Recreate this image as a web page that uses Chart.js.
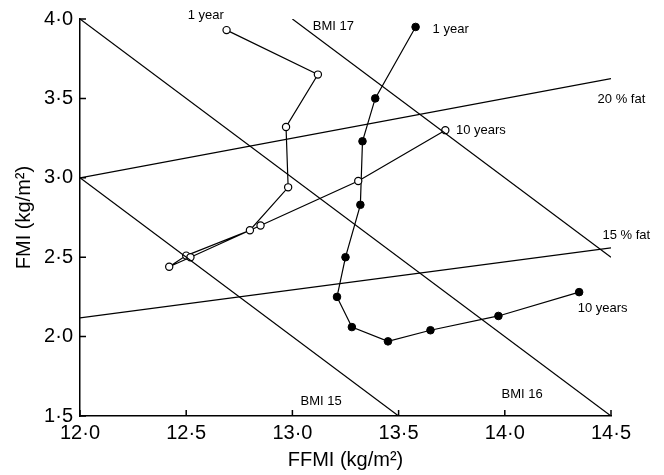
<!DOCTYPE html>
<html>
<head>
<meta charset="utf-8">
<script src="https://cdn.jsdelivr.net/npm/chart.js@4/dist/chart.umd.min.js"></script>
<style>
  html, body { margin: 0; padding: 0; background: #fff; }
  #wrap { width: 664px; height: 475px; }
</style>
</head>
<body>
<div id="wrap"><canvas id="fmiChart"></canvas></div>
<script>
// open circles (1 year -> 10 years)
const openFFMI = [12.69, 13.12, 12.97, 12.98, 12.80, 12.50, 12.42, 12.52, 12.85, 13.31, 13.72];
const openFMI  = [3.93, 3.65, 3.32, 2.94, 2.67, 2.51, 2.44, 2.50, 2.70, 2.98, 3.30];
// filled circles (1 year -> 10 years)
const filledFFMI = [13.58, 13.39, 13.33, 13.32, 13.25, 13.21, 13.28, 13.45, 13.65, 13.97, 14.35];
const filledFMI  = [3.95, 3.50, 3.23, 2.83, 2.50, 2.25, 2.06, 1.97, 2.04, 2.13, 2.28];

// reference lines, end points
const bmi15 = [[12.0, 3.0], [13.5, 1.5]];
const bmi16 = [[12.0, 4.0], [14.5, 1.5]];
const bmi17 = [[13.0, 4.0], [14.5, 2.5]];
const fat20 = [[12.0, 3.0], [14.5, 3.625]];
const fat15 = [[12.0, 2.118], [14.5, 2.559]];

const xTicks = [12.0, 12.5, 13.0, 13.5, 14.0, 14.5];
const yTicks = [1.5, 2.0, 2.5, 3.0, 3.5, 4.0];

// text notes [text, x, y]
const notes = [
  ['1 year', 12.507, 4.02],
  ['1 year', 13.66, 3.935],
  ['10 years', 13.77, 3.30],
  ['10 years', 14.343, 2.177],
  ['BMI 17', 13.096, 3.954],
  ['20 % fat', 14.437, 3.496],
  ['15 % fat', 14.46, 2.638],
  ['BMI 16', 13.985, 1.637],
  ['BMI 15', 13.038, 1.591]
];

const pts = (xs, ys) => xs.map((x, i) => ({x: x, y: ys[i]}));
const seg = a => a.map(p => ({x: p[0], y: p[1]}));
const dec = v => v.toFixed(1).replace('.', '\u00b7');

function refLine(p) {
  return {
    type: 'line', data: seg(p), borderColor: '#000', borderWidth: 1.2,
    pointRadius: 0, fill: false, showLine: true
  };
}

const extras = {
  id: 'extras',
  afterDraw(chart) {
    const ctx = chart.ctx;
    const xs = chart.scales.x, ys = chart.scales.y;
    ctx.save();
    // inward tick marks
    ctx.strokeStyle = '#000';
    ctx.lineWidth = 1.5;
    ctx.beginPath();
    xTicks.forEach(v => {
      const px = xs.getPixelForValue(v);
      ctx.moveTo(px, ys.bottom);
      ctx.lineTo(px, ys.bottom - 6);
    });
    yTicks.forEach(v => {
      const py = ys.getPixelForValue(v);
      ctx.moveTo(xs.left, py);
      ctx.lineTo(xs.left + 6, py);
    });
    ctx.stroke();
    ctx.fillStyle = '#000';
    ctx.font = '13px "Liberation Sans", Arial, sans-serif';
    ctx.textBaseline = 'middle';
    ctx.textAlign = 'left';
    notes.forEach(n => {
      ctx.fillText(n[0], xs.getPixelForValue(n[1]), ys.getPixelForValue(n[2]));
    });
    ctx.restore();
  }
};

Chart.defaults.font.family = '"Liberation Sans", Arial, sans-serif';
Chart.defaults.color = '#000';

new Chart(document.getElementById('fmiChart'), {
  type: 'scatter',
  data: {
    datasets: [
      refLine(bmi15), refLine(bmi16), refLine(bmi17), refLine(fat20), refLine(fat15),
      {
        data: pts(openFFMI, openFMI), showLine: true, borderColor: '#000', borderWidth: 1.2,
        pointRadius: 3.6, pointBackgroundColor: '#fff', pointBorderColor: '#000', pointBorderWidth: 1.2
      },
      {
        data: pts(filledFFMI, filledFMI), showLine: true, borderColor: '#000', borderWidth: 1.2,
        pointRadius: 3.8, pointBackgroundColor: '#000', pointBorderColor: '#000', pointBorderWidth: 1
      }
    ]
  },
  options: {
    responsive: true,
    maintainAspectRatio: false,
    animation: false,
    layout: { padding: { top: 15, right: 53, left: 0, bottom: 0 } },
    plugins: { legend: { display: false }, tooltip: { enabled: false } },
    scales: {
      x: {
        type: 'linear', min: 12, max: 14.5,
        afterFit: s => { s.height = 59; },
        afterBuildTicks: s => { s.ticks = xTicks.map(v => ({value: v})); },
        grid: { display: false, drawTicks: false },
        border: { display: true, color: '#000', width: 1.5 },
        ticks: { font: { size: 20 }, padding: 5, maxRotation: 0, callback: v => dec(v) },
        title: { display: true, text: 'FFMI (kg/m\u00b2)', font: { size: 20 }, padding: { top: 0, bottom: 3 } }
      },
      y: {
        type: 'linear', min: 1.5, max: 4.0,
        afterFit: s => { s.width = 80; },
        afterBuildTicks: s => { s.ticks = yTicks.map(v => ({value: v})); },
        grid: { display: false, drawTicks: false },
        border: { display: true, color: '#000', width: 1.5 },
        ticks: { font: { size: 20 }, padding: 7, callback: v => dec(v) },
        title: { display: true, text: 'FMI (kg/m\u00b2)', font: { size: 20 }, padding: { top: 12, bottom: 0 } }
      }
    }
  },
  plugins: [extras]
});
</script>
</body>
</html>
